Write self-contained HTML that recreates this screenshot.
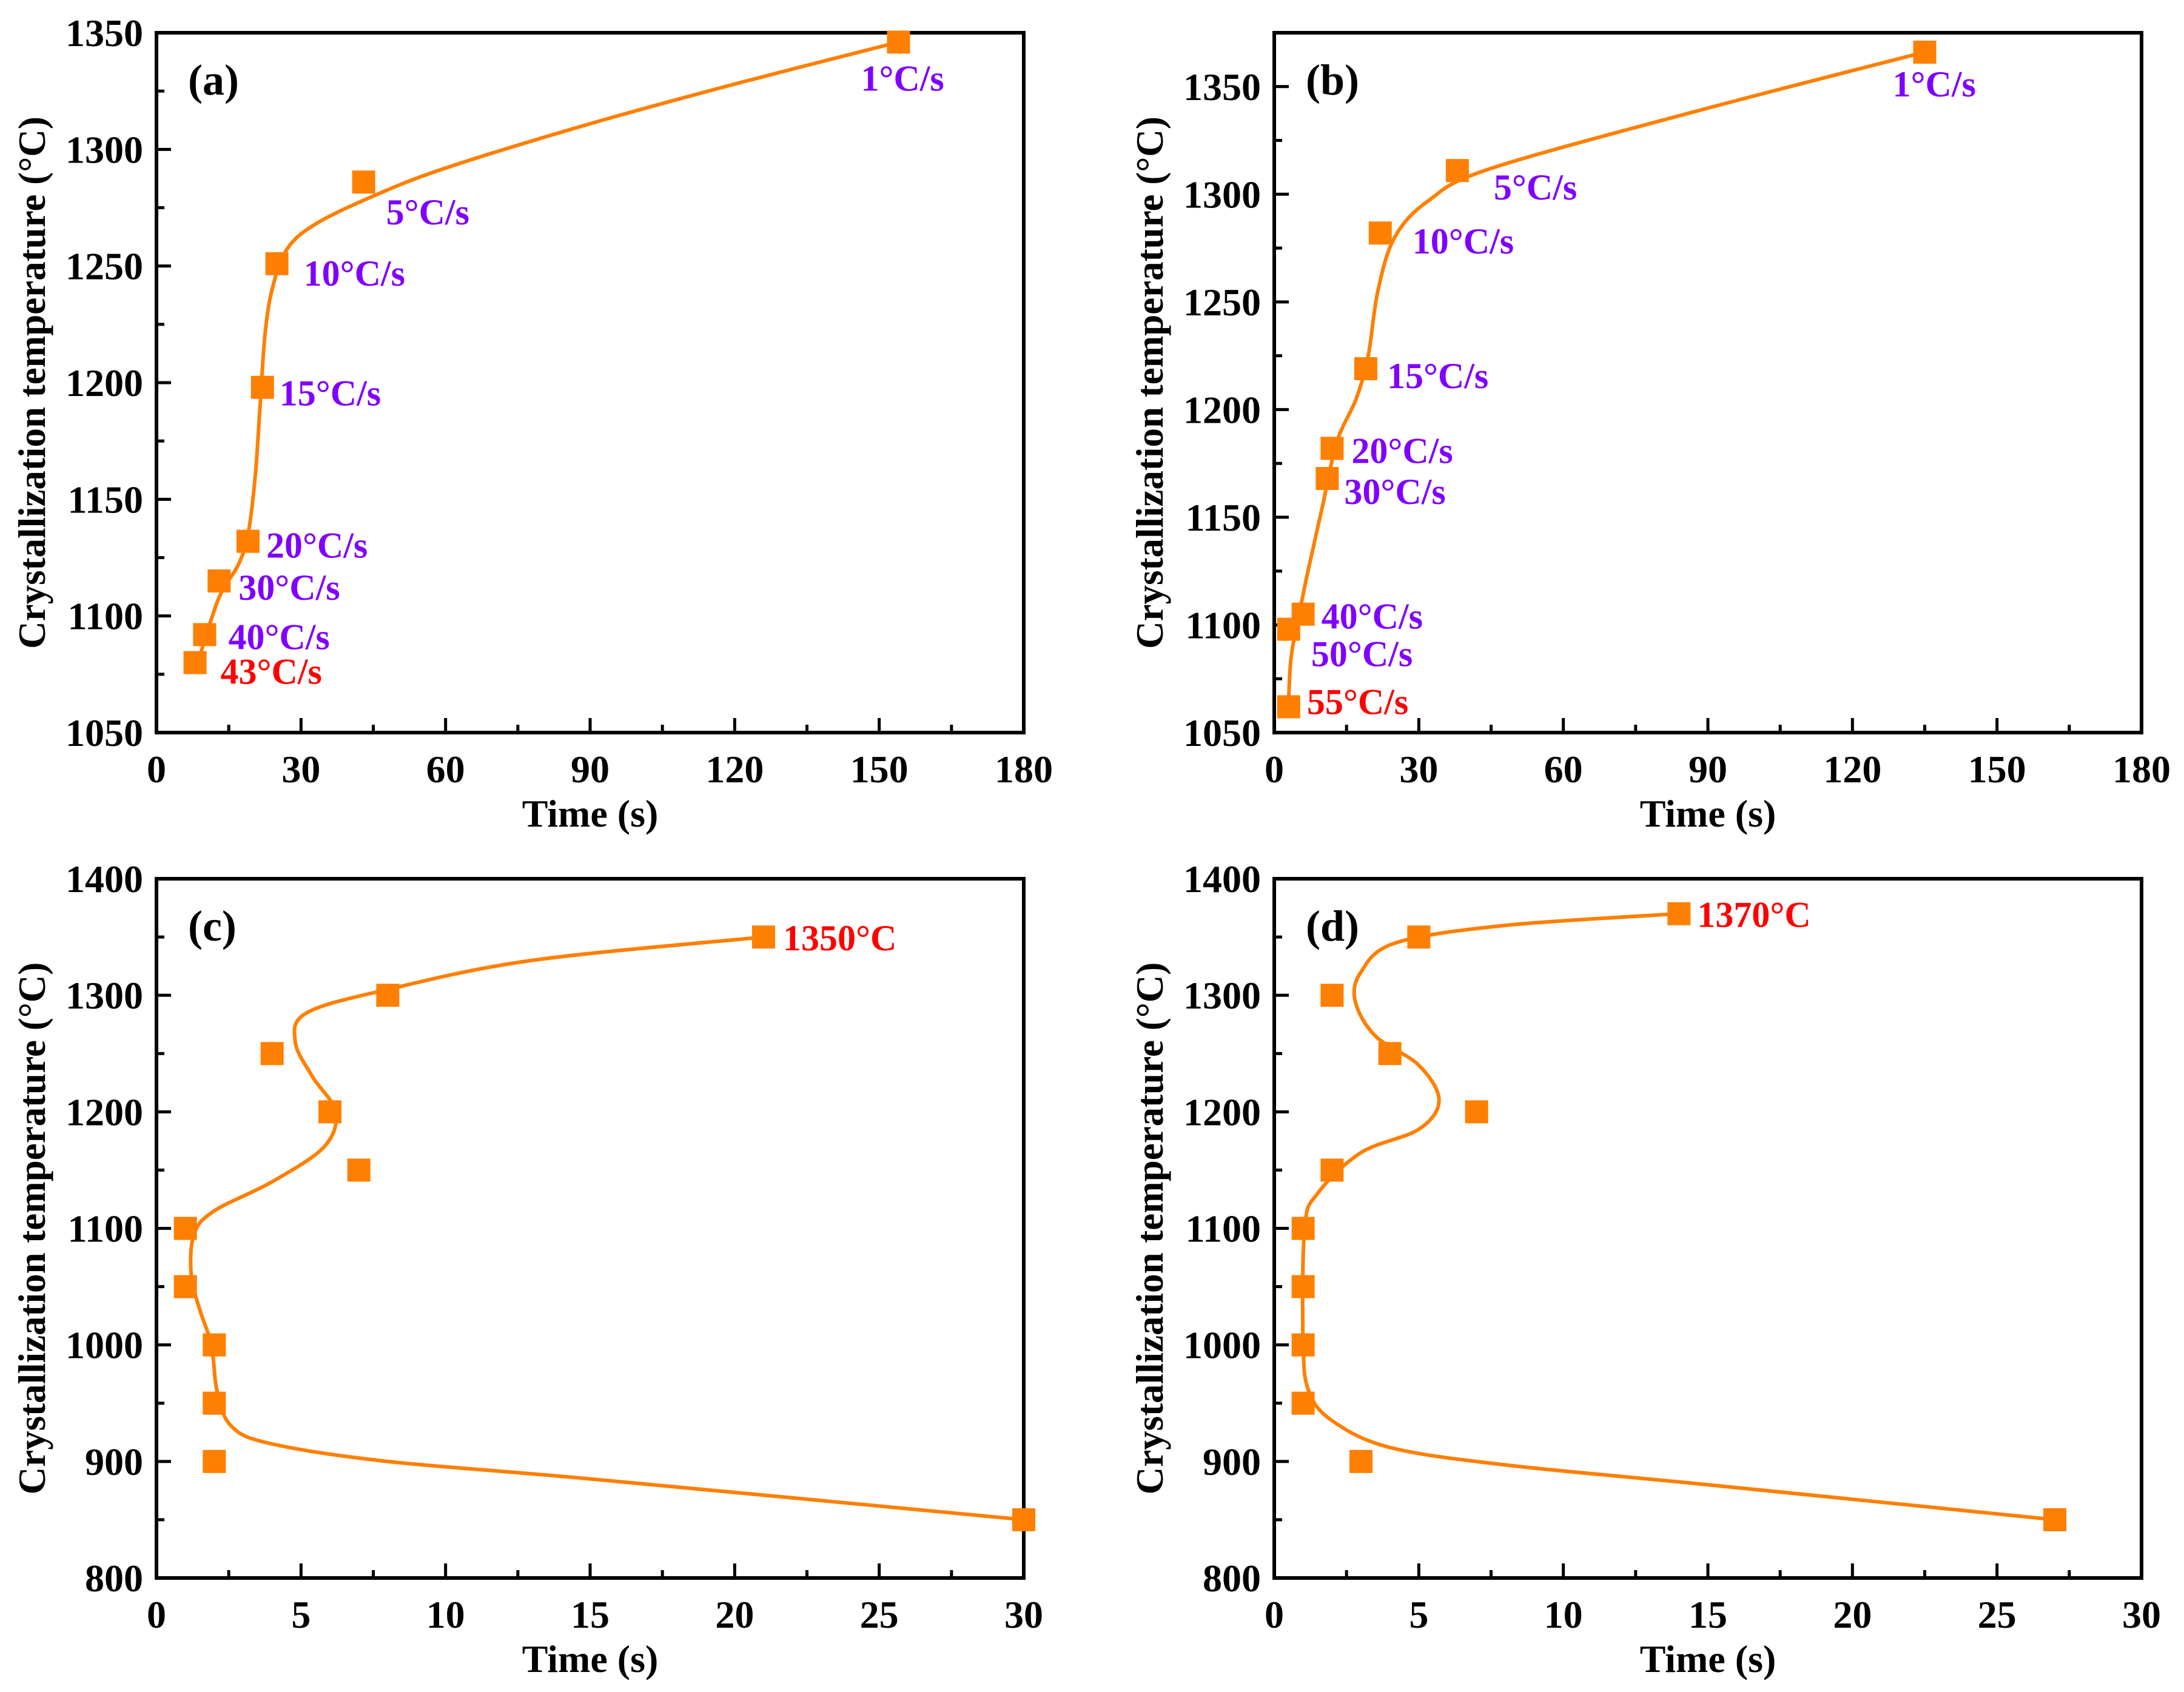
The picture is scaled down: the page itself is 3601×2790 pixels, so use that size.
<!DOCTYPE html>
<html><head><meta charset="utf-8"><style>
html,body{margin:0;padding:0;background:#fff;}
svg{display:block;font-family:"Liberation Serif","Times New Roman",serif;font-weight:bold;}
</style></head><body>
<svg id="fig" width="3601" height="2790" viewBox="0 0 3601 2790" xmlns="http://www.w3.org/2000/svg"></svg>
<script>
// ---------- DATA ----------
const aTimes=[154,43,25,22,19,13,10,8];
const aTemps=[1346,1286,1251,1198,1132,1115,1092,1080];
const aLabels=["1°C/s","5°C/s","10°C/s","15°C/s","20°C/s","30°C/s","40°C/s","43°C/s"];
const aCurveT=[9,13,17,19,20.5,21.5,22.5,24,27,33,45,60,90,120,154];
const aCurveY=[1083,1108,1122,1135,1160,1190,1220,1240,1257,1268,1280,1292,1311,1328,1346];

const bTimes=[135,38,22,19,12,11,6,3,3];
const bTemps=[1366,1311,1282,1219,1182,1168,1105,1098,1062];
const bLabels=["1°C/s","5°C/s","10°C/s","15°C/s","20°C/s","30°C/s","40°C/s","50°C/s","55°C/s"];
const bCurveT=[3,3.5,5,7,10,13,17,19.5,21.5,25,32,45,90,135];
const bCurveY=[1066,1085,1103,1125,1155,1185,1205,1225,1255,1280,1297,1312,1340,1366];

const cTimes=[21,8,4,6,7,1,1,2,2,2,30];
const cTemps=[1350,1300,1250,1200,1150,1100,1050,1000,950,900,850];
const cCurveT=[21,13,8,5.2,4.8,5.4,6.2,5.8,4,2,1.3,1.2,1.5,1.9,2.1,2.6,4,8,15,30];
const cCurveY=[1350,1330,1305,1285,1260,1230,1200,1170,1140,1115,1095,1060,1030,1000,960,930,915,900,885,850];

const dTimes=[14,5,2,4,7,2,1,1,1,1,3,27];
const dTemps=[1370,1350,1300,1250,1200,1150,1100,1050,1000,950,900,850];
const dCurveT=[14,8,4.2,3,2.8,3.5,5,5.7,5,3,1.5,1.05,1,1.2,2,4,8,15,27];
const dCurveY=[1370,1360,1345,1320,1295,1265,1240,1210,1185,1165,1130,1100,1000,960,935,912,897,880,850];

const abXTicks=[0,30,60,90,120,150,180];
const aYTicks=[1050,1100,1150,1200,1250,1300,1350];
const bYTicks=[1050,1100,1150,1200,1250,1300,1350];
const cdXTicks=[0,5,10,15,20,25,30];
const cdYTicks=[800,900,1000,1100,1200,1300,1400];

const ORANGE="#ff7f00", PURPLE="#8000ff", RED="#ff0000";
const NS="http://www.w3.org/2000/svg";
const svg=document.getElementById('fig');
function mk(tag,attrs,parent){const e=document.createElementNS(NS,tag);for(const k in attrs)e.setAttribute(k,attrs[k]);(parent||svg).appendChild(e);return e;}

function spline(pts){
  let d=`M${pts[0][0]},${pts[0][1]}`;
  for(let i=0;i<pts.length-1;i++){
    const p0=pts[Math.max(0,i-1)],p1=pts[i],p2=pts[i+1],p3=pts[Math.min(pts.length-1,i+2)];
    const c1=[p1[0]+(p2[0]-p0[0])/6,p1[1]+(p2[1]-p0[1])/6];
    const c2=[p2[0]-(p3[0]-p1[0])/6,p2[1]-(p3[1]-p1[1])/6];
    d+=` C${c1[0]},${c1[1]} ${c2[0]},${c2[1]} ${p2[0]},${p2[1]}`;
  }
  return d;
}

function panel(o){
  const g=mk('g',{});
  
  
  const X=v=>o.L+(v-o.x0)/(o.x1-o.x0)*(o.R-o.L);
  const Y=v=>o.B-(v-o.y0)/(o.y1-o.y0)*(o.B-o.T);
  const xStep=o.xTicks[1]-o.xTicks[0], yStep=o.yTicks[1]-o.yTicks[0];
  o.xTicks.forEach((v,i)=>{
    const x=X(v);
    const t=mk('line',{x1:x,x2:x,y1:o.B,y2:o.B-24,stroke:'#000','stroke-width':5},g);
    
    
    const tx=mk('text',{x:x,y:o.B+82,'text-anchor':'middle','font-size':64},g);
    tx.textContent=v;
    
    
    if(i<o.xTicks.length-1){const xm=X(v+xStep/2);
      const m=mk('line',{x1:xm,x2:xm,y1:o.B,y2:o.B-13,stroke:'#000','stroke-width':5},g);
      
      }
  });
  o.yTicks.forEach((v,i)=>{
    const y=Y(v);
    const t=mk('line',{x1:o.L,x2:o.L+24,y1:y,y2:y,stroke:'#000','stroke-width':5},g);
    
    
    const tx=mk('text',{x:o.L-22,y:y+22,'text-anchor':'end','font-size':64},g);
    tx.textContent=v;
    
    
    const vm=v+yStep/2;
    if(vm<=o.y1){const ym=Y(vm);
      const m=mk('line',{x1:o.L,x2:o.L+13,y1:ym,y2:ym,stroke:'#000','stroke-width':5},g);
      
      }
  });
  const f=mk('rect',{x:o.L,y:o.T,width:o.R-o.L,height:o.B-o.T,fill:'none',stroke:'#000','stroke-width':6},g);
  
  
  const xt=mk('text',{x:(o.L+o.R)/2,y:o.B+155,'text-anchor':'middle','font-size':64},g);
  xt.textContent='Time (s)';
  
  
  const yc=(o.T+o.B)/2, yx=o.L-184;
  const yt=mk('text',{x:yx,y:yc,'text-anchor':'middle','font-size':63,transform:`rotate(-90 ${yx} ${yc})`},g);
  yt.textContent='Crystallization temperature (°C)';
  
  
  const pl=mk('text',{x:o.L+52,y:o.T+102,'font-size':72},g);
  pl.textContent='('+o.id+')';
  
  
  const pts=o.cT.map((t,i)=>[X(t),Y(o.cY[i])]);
  const c=mk('path',{d:spline(pts),fill:'none',stroke:ORANGE,'stroke-width':6},g);
  
  
  o.t.forEach((t,i)=>{
    const s=mk('rect',{x:X(t)-19,y:Y(o.y[i])-19,width:38,height:38,fill:ORANGE},g);
    
    
  });
  (o.labels||[]).forEach((lab,i)=>{
    const off=o.offs[i];
    const tx=mk('text',{x:X(o.t[i])+off[0],y:Y(o.y[i])+off[1],'font-size':60,fill:off[2]||PURPLE},g);
    tx.textContent=lab;
    
    
  });
}

panel({id:'a',L:258,R:1688,T:54,B:1208,x0:0,x1:180,y0:1050,y1:1350,xTicks:abXTicks,yTicks:aYTicks,
  t:aTimes,y:aTemps,cT:aCurveT,cY:aCurveY,labels:aLabels,
  offs:[[-62,80],[37,70],[44,36],[28,30],[30,27],[32,31],[39,24],[42,35,RED]]});
panel({id:'b',L:2101,R:3531,T:54,B:1208,x0:0,x1:180,y0:1050,y1:1375,xTicks:abXTicks,yTicks:bYTicks,
  t:bTimes,y:bTemps,cT:bCurveT,cY:bCurveY,labels:bLabels,
  offs:[[-53,73],[60,48],[53,34],[35,32],[32,24],[28,42],[30,24],[37,61],[30,12,RED]]});
panel({id:'c',L:258,R:1688,T:1449,B:2602,x0:0,x1:30,y0:800,y1:1400,xTicks:cdXTicks,yTicks:cdYTicks,
  t:cTimes,y:cTemps,cT:cCurveT,cY:cCurveY,labels:["1350°C"],offs:[[32,22,RED]]});
panel({id:'d',L:2101,R:3531,T:1449,B:2602,x0:0,x1:30,y0:800,y1:1400,xTicks:cdXTicks,yTicks:cdYTicks,
  t:dTimes,y:dTemps,cT:dCurveT,cY:dCurveY,labels:["1370°C"],offs:[[30,22,RED]]});
</script>
</body></html>
